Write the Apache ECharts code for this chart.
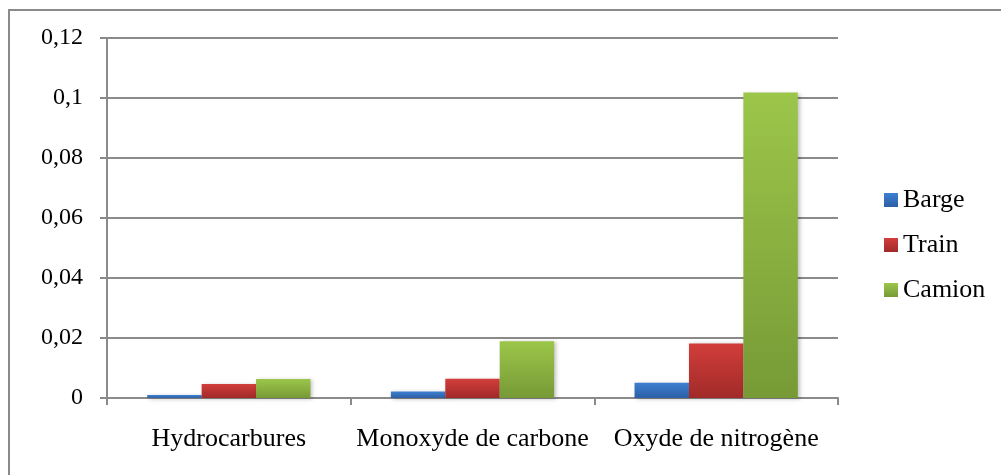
<!DOCTYPE html>
<html>
<head>
<meta charset="utf-8">
<script src="https://cdn.jsdelivr.net/npm/echarts@6/dist/echarts.min.js"></script>
<style>
    html, body { margin: 0; padding: 0; background: #fff; }
    #chart { width: 1001px; height: 475px; }
</style>
</head>
<body>
<div id="chart"></div>
<script>
    var categories = ['Hydrocarbures', 'Monoxyde de carbone', 'Oxyde de nitrogène'];
    var barge = [0.001, 0.0022, 0.0051];
    var train = [0.0047, 0.0064, 0.0182];
    var camion = [0.0063, 0.0189, 0.1018];
    var yTicks = [0, 0.02, 0.04, 0.06, 0.08, 0.1, 0.12];

    var font = 'Liberation Serif';

    function grad(top, bottom) {
        return new echarts.graphic.LinearGradient(0, 0, 0, 1, [
            {offset: 0, color: top},
            {offset: 1, color: bottom}
        ]);
    }

    function bar(name, data, top, bottom) {
        return {
            name: name,
            type: 'bar',
            data: data,
            barGap: '0%',
            barCategoryGap: '33%',
            itemStyle: {
                color: grad(top, bottom),
                shadowColor: 'rgba(0,0,0,0.25)',
                shadowBlur: 4,
                shadowOffsetX: 2,
                shadowOffsetY: 1
            }
        };
    }

    var chart = echarts.init(document.getElementById('chart'));
    chart.setOption({
        animation: false,
        textStyle: {fontFamily: font},
        graphic: [{
            type: 'rect',
            shape: {x: 9, y: 10, width: 1100, height: 600},
            style: {fill: 'none', stroke: '#8a8a8a', lineWidth: 2},
            silent: true
        }],
        legend: {
            orient: 'vertical',
            left: 879,
            top: 182,
            itemWidth: 14,
            itemHeight: 14,
            itemGap: 19,
            icon: 'rect',
            textStyle: {fontFamily: font, fontSize: 26, color: '#000', lineHeight: 26},
            data: ['Barge', 'Train', 'Camion']
        },
        grid: {left: 107, right: 163, top: 38, bottom: 77, containLabel: false},
        xAxis: {
            type: 'category',
            data: categories,
            axisLine: {lineStyle: {color: '#8a8a8a', width: 2}},
            axisTick: {show: true, length: 7, inside: false, lineStyle: {color: '#8a8a8a', width: 2}},
            axisLabel: {fontFamily: font, fontSize: 26, color: '#000', margin: 28, interval: 0}
        },
        yAxis: {
            type: 'value',
            min: 0,
            max: 0.12,
            interval: 0.02,
            axisLine: {show: true, lineStyle: {color: '#8a8a8a', width: 2}},
            axisTick: {show: true, length: 7, lineStyle: {color: '#8a8a8a', width: 2}},
            splitLine: {lineStyle: {color: '#8a8a8a', width: 2}},
            axisLabel: {
                fontFamily: font, fontSize: 24, color: '#000', margin: 24,
                formatter: function (v) {
                    var t = yTicks.filter(function (x) { return Math.abs(x - v) < 1e-9; });
                    return String(t.length ? t[0] : v).replace('.', ',');
                }
            }
        },
        series: [
            bar('Barge', barge, '#3d80d2', '#2c5fa5'),
            bar('Train', train, '#d23e3b', '#a02a29'),
            bar('Camion', camion, '#9cc64a', '#779a36')
        ]
    });
</script>
</body>
</html>
